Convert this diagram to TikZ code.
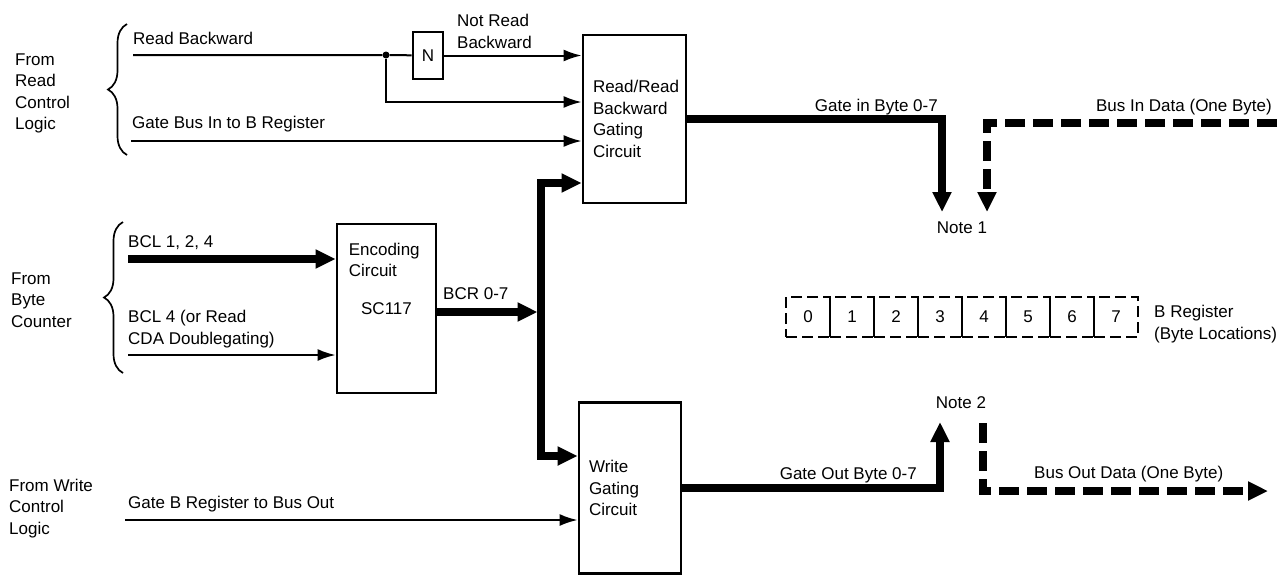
\documentclass[tikz,border=0pt]{standalone}
\usepackage{fontspec}
\setmainfont{Liberation Sans}
\usetikzlibrary{arrows.meta,positioning,decorations.pathreplacing}

\begin{document}
\begin{tikzpicture}[x=1pt, y=-1pt, line join=miter,
    every node/.style={font=\fontsize{17}{21.5}\selectfont, inner sep=0pt},
    lbl/.style={align=left, anchor=west},
    gatebox/.style={draw, line width=2.8pt, inner xsep=10pt, align=left},
    wire/.style={line width=2pt},
    sig/.style={wire, -{Latex[length=18pt, width=12pt]}},
    bus/.style={line width=7.5pt, -{Triangle[length=20pt, width=18pt]}},
    dbus/.style={bus, dash pattern=on 20pt off 8pt},
    cell/.style={draw, line width=2.4pt, dash pattern=on 11pt off 5pt, minimum width=44pt, minimum height=40pt},
    curly/.style={decorate, decoration={brace, amplitude=19pt}, line width=1.7pt}]
    \useasboundingbox (0,0) rectangle (1287,574);

    % sources on the left
    \node[lbl] (readctl) at (15,93.5) {From\\Read\\Control\\Logic};
    \draw[curly] (127,155) -- (127,24);
    \node[lbl] (bytectr) at (11,300) {From\\Byte\\Counter};
    \draw[curly] (123,373) -- (123,222);
    \node[lbl] (writectl) at (9,508.5) {From Write\\Control\\Logic};

    % circuits
    \node[gatebox, text width=83pt, minimum height=168pt] (rd) at (634.5,119) {Read/Read\\Backward\\Gating\\Circuit};
    \node[gatebox, text width=79pt, minimum height=169pt] (enc) at (386.5,308.5) {};
    \node[lbl, anchor=north west, below right=20pt and 13pt of enc.north west] (enctxt) {Encoding\\Circuit};
    \node (sc) at (enc.center) {SC117};
    \node[gatebox, text width=82pt, minimum height=171pt] (wr) at (630,488) {Write\\Gating\\Circuit};
    \node[draw, line width=2.6pt, minimum width=30pt, minimum height=47pt] (nb) at (428,55.5) {N};
    \node[circle, fill, minimum size=7pt] (jn) at (386,55) {};

    % read control signals
    \node[lbl] (rbl) at (133,38) {Read Backward};
    \node[lbl] (nrbl) at (457,31.5) {Not Read\\Backward};
    \coordinate (rbsrc) at (133,55);
    \draw[wire] (rbsrc) -- (jn) -- (nb);
    \draw[sig] (nb) -- (nb -| rd.west);
    \draw[sig] (jn) |- (rd.west |- 0,102);
    \node[lbl] (gbil) at (132,124) {Gate Bus In to B Register};
    \coordinate (gbsrc) at (131,141);
    \draw[sig] (gbsrc) -- (gbsrc -| rd.west);

    % byte counter
    \node[lbl] (bcl) at (128,243) {BCL 1, 2, 4};
    \coordinate (bclsrc) at (128,259);
    \draw[bus] (bclsrc) -- (bclsrc -| enc.west);
    \node[lbl] (bcl4) at (128,329) {BCL 4 (or Read\\CDA Doublegating)};
    \coordinate (bcl4src) at (128,355);
    \draw[sig] (bcl4src) -- (bcl4src -| enc.west);
    \node[lbl] (bcrl) at (443,294) {BCR 0-7};
    \coordinate (tap) at (541,312);
    \draw[bus] (enc.east |- tap) -- ([xshift=-3.5pt]tap);
    \draw[bus] (tap) |- (rd.west |- 0,183);
    \draw[bus] (tap) |- (wr.west |- 0,456);

    % write control
    \node[lbl] (gbrl) at (128,504) {Gate B Register to Bus Out};
    \coordinate (gbrsrc) at (125,520);
    \draw[sig] (gbrsrc) -- (gbrsrc -| wr.west);

    % bus in side
    \node[anchor=base east] (ginl) at (938,111) {Gate in Byte 0-7};
    \coordinate (n1in) at (942,212);
    \draw[bus] (rd.east) -| (n1in);
    \node[anchor=base east] (binl) at (1272,111) {Bus In Data (One Byte)};
    \coordinate (busin) at (1277,123);
    \coordinate (n1bus) at (987,212);
    \draw[dbus] (busin) -| (n1bus);
    \node (note1) at (962,228) {Note 1};

    % B register
    \foreach \i in {0,...,7}
        \node[cell] (b\i) at (808+44*\i,317) {\i};
    \node[lbl] (breg) at (1154,324) {B Register\\(Byte Locations)};

    % bus out side
    \node (note2) at (961,403) {Note 2};
    \node[anchor=base east] (goutl) at (917,479) {Gate Out Byte 0-7};
    \coordinate (n2out) at (940,422);
    \draw[bus] (wr.east) -| (n2out);
    \node[anchor=base west] (boutl) at (1034,478) {Bus Out Data (One Byte)};
    \coordinate (n2bus) at (983,423);
    \coordinate (busout) at (1268,491);
    \draw[dbus] (n2bus) |- (busout);
\end{tikzpicture}
\end{document}
